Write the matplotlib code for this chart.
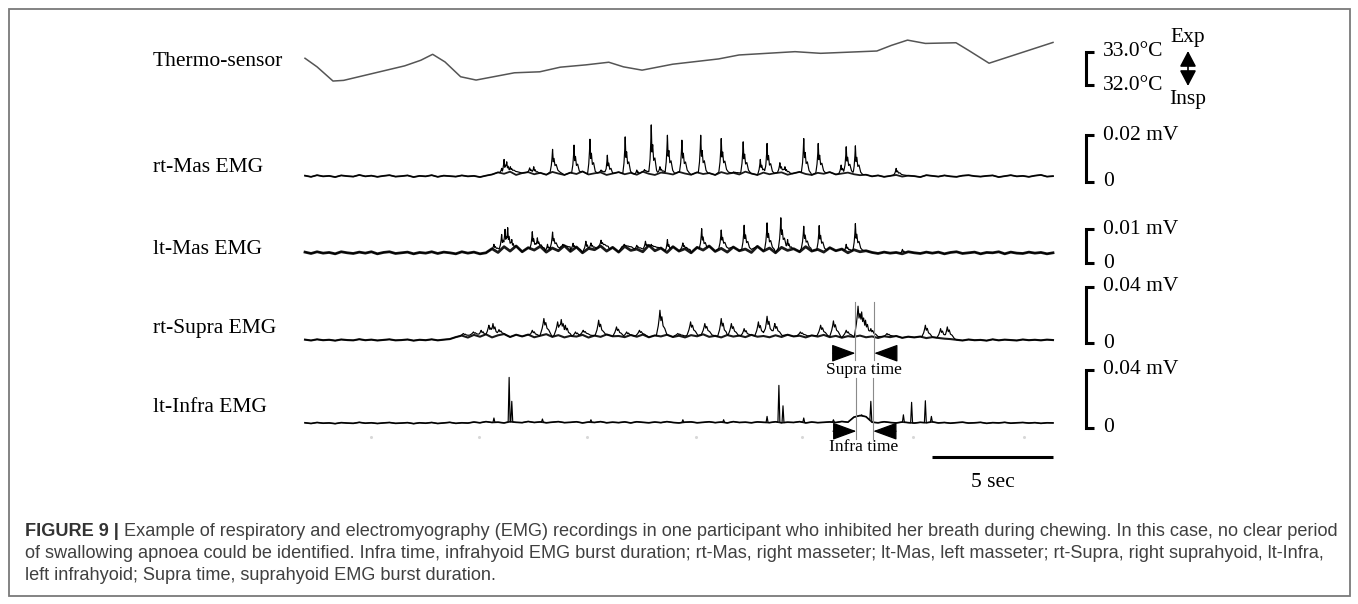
import numpy as np
import matplotlib
matplotlib.use("Agg")
import matplotlib.pyplot as plt
from matplotlib.patches import Rectangle

# ---------------- data ----------------
STEP = 0.25  # s between baseline samples
T_SPAN = 31.0

thermo_t = [0.0, 0.5, 1.16, 1.6, 4.13, 4.8, 5.29, 5.8, 6.45, 7.09, 8.68, 9.73, 10.58, 11.64,
            12.59, 13.2, 13.97, 15.24, 17.14, 17.99, 20.31, 21.37, 23.70, 24.3, 24.97,
            25.71, 26.98, 27.5, 28.35, 31.0]
thermo_c = [32.81, 32.55, 32.12, 32.14, 32.58, 32.75, 32.93, 32.70, 32.25, 32.15, 32.37, 32.40,
            32.54, 32.61, 32.69, 32.55, 32.45, 32.63, 32.79, 32.91, 33.01, 32.96, 33.03, 33.20,
            33.36, 33.26, 33.28, 33.05, 32.66, 33.29]

# rt-Mas (uV)
rtmas_base = [2.7, 2.2, 2.9, 2.4, 2.6, 2.1, 2.8, 2.5, 2.3, 3.0, 2.4, 2.7, 2.2, 2.6, 2.9, 2.3,
              2.5, 2.8, 2.1, 2.6, 2.4, 2.9, 2.2, 2.7, 2.5, 2.3, 2.8, 2.4, 2.6, 2.1, 2.7,
              3.2, 4.1, 3.5, 4.4, 3.0, 3.8, 4.2, 3.3, 3.9, 3.1, 4.3, 3.6, 3.0, 4.0, 3.4, 4.5,
              3.2, 3.7, 4.1, 3.0, 3.6, 4.2, 3.3, 3.9, 3.1, 4.4, 3.5, 3.0, 4.0, 3.7, 3.2, 4.3,
              3.6, 3.1, 4.1, 3.4, 3.8, 3.0, 4.2, 3.5, 3.9, 3.2, 4.4, 3.6, 3.0, 4.0, 3.3, 3.8,
              4.1, 3.1, 3.7, 4.3, 3.4, 3.0, 3.9, 3.5, 4.2, 3.2, 3.6, 4.0, 3.3, 2.9, 3.1,
              2.4, 2.8, 2.2, 2.6, 3.0, 2.3, 2.7, 2.5, 2.1, 2.9, 2.6, 2.3, 2.8, 2.4, 2.2, 2.7,
              2.9, 2.5, 2.3, 2.6, 2.8, 2.1, 2.5, 2.9, 2.4, 2.6, 2.2, 2.7, 3.0, 2.3, 2.5]
rtmas_peak_t = [8.15, 8.25, 8.36, 8.51, 9.31, 9.48, 10.26, 11.15, 11.81, 12.27, 12.53, 13.27,
                13.75, 14.07, 14.35, 14.71, 15.02, 15.62, 16.40, 17.25, 17.77, 18.16, 18.87,
                19.15, 19.68, 19.89, 20.67, 21.27, 22.22, 22.43, 22.81, 24.50]
rtmas_peak_v = [5.8, 9.6, 8.6, 6.5, 6.0, 6.5, 13.9, 15.7, 18.2, 5.1, 11.4, 19.2, 5.1, 5.3, 24.3,
                6.5, 19.9, 17.8, 19.9, 18.5, 4.3, 17.1, 9.6, 16.4, 8.2, 6.5, 18.5, 16.4, 7.2,
                15.0, 15.4, 5.8]

# lt-Mas (uV)
ltmas_base = [3.2, 2.8, 3.3, 2.9, 3.1, 2.7, 3.3, 3.0, 2.8, 3.2, 2.9, 3.3, 2.7, 3.1, 3.3, 2.8,
              3.0, 3.2, 2.7, 3.1, 2.9, 3.3, 2.8, 3.2, 3.0, 2.7, 3.3, 2.9, 3.2, 2.7, 3.0,
              4.2, 3.1, 4.8, 3.5, 5.0, 3.3, 4.5, 3.8, 4.9, 3.2, 4.4, 3.6, 5.1, 3.4, 4.7, 3.0,
              4.3, 3.9, 5.0, 3.5, 4.6, 3.2, 4.9, 3.7, 4.1, 3.3, 5.2, 3.6, 4.4, 3.1, 4.8, 3.5,
              4.2, 3.0, 4.6, 3.8, 5.0, 3.4, 4.3, 3.2, 4.7, 3.6, 4.1, 3.1, 4.9, 3.5, 4.4, 3.0,
              4.6, 3.7, 4.2, 3.3, 4.8, 3.5, 4.0, 3.2, 4.5, 3.6, 4.1, 3.0, 3.9, 3.3, 3.6,
              3.1, 2.8, 3.2, 2.9, 3.1, 2.7, 3.3, 3.0, 2.8, 3.2, 2.9, 3.2, 2.7, 3.1, 3.3, 2.8,
              3.0, 3.2, 2.7, 3.1, 3.0, 3.3, 2.7, 3.2, 2.9, 2.8, 3.2, 2.9, 3.1, 2.7, 3.0]
ltmas_peak_t = [7.83, 8.15, 8.29, 8.40, 8.57, 9.42, 9.63, 10.05, 10.26, 10.69, 11.11, 11.64,
                11.85, 12.27, 12.53, 13.23, 13.75, 14.11, 14.35, 15.02, 15.66, 16.44, 17.25,
                18.20, 19.15, 19.72, 20.00, 20.67, 21.31, 22.43, 22.81, 24.76]
ltmas_peak_v = [5.5, 8.4, 9.9, 10.4, 6.9, 9.2, 7.4, 5.5, 9.1, 5.5, 5.8, 6.4, 5.9, 6.7, 5.0, 5.5,
                5.2, 6.4, 5.5, 6.9, 5.9, 10.1, 9.7, 11.1, 11.8, 13.3, 6.9, 10.8, 11.0, 5.5,
                11.6, 4.0]

# rt-Supra (uV)
rtsupra_base = [2.4, 1.8, 2.6, 2.0, 2.3, 1.7, 2.5, 2.1, 1.9, 2.7, 2.0, 2.4, 1.8, 2.2, 2.6, 1.9,
                2.1, 2.5, 1.7, 2.3, 2.0, 2.6, 1.9, 2.4, 2.8,
                4.2, 5.3, 3.9, 5.8, 4.5, 6.2, 4.0, 5.5, 6.4, 4.3, 5.9, 4.7, 6.0, 4.1, 5.2, 6.3,
                4.4, 5.6, 4.0, 5.1, 4.6, 5.8, 3.9, 5.3, 4.4, 6.1, 4.8, 5.0, 4.2, 5.7, 4.5, 6.0,
                4.1, 5.4, 4.7, 5.9, 4.3, 5.2, 4.0, 5.6, 4.8, 6.2, 4.4, 5.1, 4.0, 5.7, 4.6, 5.3,
                4.2, 5.8, 4.5, 5.0, 4.1, 5.5, 4.3, 5.9, 4.7, 5.2, 4.0, 5.4, 4.6, 5.8, 4.2, 5.1,
                3.8, 4.9, 4.4, 5.3, 4.1, 4.7, 3.6, 4.8, 4.2, 5.0, 3.7, 4.5, 4.0, 4.6, 3.5, 4.2,
                3.6, 3.1, 2.8,
                2.3, 1.8, 2.5, 2.0, 2.2, 1.7, 2.6, 1.9, 2.4, 2.1, 1.8, 2.5, 2.0, 2.3, 1.9, 2.4,
                2.1]
rtsupra_peak_t = [6.56, 6.98, 7.30, 7.62, 7.79, 8.04, 9.42, 9.90, 10.47, 10.62, 10.79, 11.21,
                  11.53, 12.17, 12.91, 13.33, 13.86, 14.71, 15.45, 15.98, 16.57, 17.25, 17.67,
                  18.20, 18.79, 19.15, 19.47, 20.53, 21.37, 21.90, 22.43, 22.92, 23.07, 23.23,
                  23.45, 24.12, 25.71, 26.34, 26.62]
rtsupra_peak_v = [6.8, 7.9, 9.1, 12.7, 13.9, 9.6, 9.1, 17.5, 15.1, 16.8, 12.7, 7.9, 9.1, 16.3,
                  11.5, 7.9, 9.1, 23.4, 6.8, 15.1, 13.9, 17.5, 13.9, 10.3, 15.1, 19.1, 13.9,
                  7.9, 12.7, 15.8, 9.1, 26.3, 22.2, 16.3, 10.3, 6.8, 12.7, 10.3, 11.5]

# lt-Infra (uV)
ltinfra_base = [3.6, 3.1, 3.8, 3.3, 3.5, 3.0, 3.7, 3.4, 3.2, 3.9, 3.3, 3.6, 3.1, 3.5, 3.8, 3.2,
                3.4, 3.7, 3.0, 3.6, 3.3, 3.8, 3.1, 3.5, 3.9, 3.2, 3.6, 3.4,
                4.1, 3.6, 4.4, 3.8, 4.0, 3.5, 4.3, 3.9, 3.7, 4.5, 3.8, 4.2, 3.6, 4.0, 4.4, 3.7,
                3.9, 4.3, 3.5, 4.1, 3.8, 4.4, 3.6, 4.0, 3.7, 4.2, 3.5, 4.3, 3.9, 3.6, 4.1, 3.7,
                4.4, 3.8, 3.5, 4.0, 4.2, 3.6, 3.9, 4.3, 3.7, 4.1, 3.5, 4.4, 3.8, 4.0, 3.6, 4.2,
                3.9, 3.7, 4.3, 3.6, 4.0, 3.8, 4.4, 3.5, 4.1, 3.7, 3.9, 4.2, 3.8, 4.5, 4.0,
                7.5, 8.6, 7.8,
                4.0, 3.6, 4.3, 3.8, 3.5, 4.1, 3.7, 3.4, 3.9, 3.6, 4.2, 3.5, 3.8, 3.3, 3.7, 4.0,
                3.4, 3.6, 3.9, 3.2, 3.7, 3.5, 3.9, 3.3, 3.6, 3.8, 3.4, 3.7, 3.2, 3.6, 3.5]
ltinfra_peak_t = [7.83, 8.46, 8.57, 9.84, 11.85, 15.66, 17.35, 19.15, 19.64, 19.81, 20.67,
                  21.90, 23.07, 23.45, 24.80, 25.14, 25.71, 25.96]
ltinfra_peak_v = [6.9, 34.9, 18.4, 6.2, 5.7, 5.7, 5.7, 8.0, 29.4, 15.3, 6.9, 5.7, 9.1, 18.4,
                  9.1, 17.7, 18.8, 8.0]
grid_dots_t = [2.75, 7.2, 11.7, 16.2, 20.6, 25.2, 29.8]

labels = ["Thermo-sensor", "rt-Mas EMG", "lt-Mas EMG", "rt-Supra EMG", "lt-Infra EMG"]
scale_tops = ["0.02 mV", "0.01 mV", "0.04 mV", "0.04 mV"]
swallow_lines_t = [22.81, 23.59]
infra_lines_t = [22.85, 23.55]

caption_bold = "FIGURE 9 |"
caption = [" Example of respiratory and electromyography (EMG) recordings in one participant who inhibited her breath during chewing. In this case, no clear period",
           "of swallowing apnoea could be identified. Infra time, infrahyoid EMG burst duration; rt-Mas, right masseter; lt-Mas, left masseter; rt-Supra, right suprahyoid, lt-Infra,",
           "left infrahyoid; Supra time, suprahyoid EMG burst duration."]

# ---------------- styling / layout ----------------
W, H = 1358, 604
X0, X1 = 305, 1053
SERIF = "Liberation Serif"
FS = 15.5

mas_tpl = [(-0.10, 0.0), (-0.05, 0.3), (-0.02, 0.65), (0.0, 1.0), (0.03, 0.45), (0.06, 0.6),
           (0.10, 0.28), (0.15, 0.33), (0.22, 0.08), (0.30, 0.0)]
supra_tpl = [(-0.15, 0.0), (-0.07, 0.4), (-0.03, 0.7), (0.0, 1.0), (0.04, 0.6), (0.08, 0.75),
             (0.13, 0.4), (0.20, 0.3), (0.30, 0.0)]
infra_tpl = [(-0.04, 0.0), (0.0, 1.0), (0.04, 0.0)]

fig = plt.figure(figsize=(W / 100, H / 100), dpi=100)
fig.patch.set_facecolor("white")


def px_t(x):
    return (x - X0) / (X1 - X0) * T_SPAN


def row_axes(y_top, y_bot, v_top, v_bot):
    ax = fig.add_axes([X0 / W, 1 - y_bot / H, (X1 - X0) / W, (y_bot - y_top) / H])
    ax.set_xlim(0, T_SPAN)
    ax.set_ylim(v_bot, v_top)
    ax.axis("off")
    return ax


def build_trace(base, pk_t, pk_v, tpl):
    base = np.asarray(base, float)
    bt = np.arange(len(base)) * STEP
    dts = np.array([d for d, _ in tpl])
    fr = np.array([f for _, f in tpl])
    tt = np.unique(np.concatenate([bt] + [tp + dts for tp in pk_t]))
    tt = tt[(tt >= 0) & (tt <= bt[-1])]
    vv = np.interp(tt, bt, base)
    for tp, vp in zip(pk_t, pk_v):
        b0 = np.interp(tp, bt, base)
        shape = np.interp(tt, tp + dts, b0 + fr * (vp - b0), left=-1e9, right=-1e9)
        vv = np.maximum(vv, shape)
    return bt, base, tt, vv


def bracket(ax, v_top, v_bot, top_label, bot_label):
    xb, xt = px_t(1086), px_t(1094)
    ax.plot([xt, xb, xb, xt], [v_top, v_top, v_bot, v_bot], color="black", lw=2.2,
            clip_on=False, solid_joinstyle="miter", solid_capstyle="butt")
    ax.text(px_t(1103), v_top, top_label, ha="left", va="center", fontsize=FS, family=SERIF)
    ax.text(px_t(1103), v_bot, bot_label, ha="left", va="center", fontsize=FS, family=SERIF)


# Thermo
ax_th = row_axes(52, 85, 33.0, 32.0)
ax_th.plot(thermo_t, thermo_c, color="#555555", lw=1.1, clip_on=False)
bracket(ax_th, 33.0, 32.0, "33.0°C", "32.0°C")
ax_th.annotate("", xy=(px_t(1188), 33.03), xytext=(px_t(1188), 31.97),
               arrowprops=dict(arrowstyle="<|-|>,head_length=0.95,head_width=0.5",
                               color="black", lw=1.2, shrinkA=0, shrinkB=0,
                               mutation_scale=10), annotation_clip=False)
ax_th.text(px_t(1188), 33.45, "Exp", ha="center", va="center", fontsize=FS, family=SERIF)
ax_th.text(px_t(1188), 31.55, "Insp", ha="center", va="center", fontsize=FS, family=SERIF)

rows = [
    (135, 182, 20.0, rtmas_base, rtmas_peak_t, rtmas_peak_v, mas_tpl, 1.3),
    (229, 263, 10.0, ltmas_base, ltmas_peak_t, ltmas_peak_v, mas_tpl, 2.0),
    (287, 343, 40.0, rtsupra_base, rtsupra_peak_t, rtsupra_peak_v, supra_tpl, 1.5),
    (370, 428, 40.0, ltinfra_base, ltinfra_peak_t, ltinfra_peak_v, infra_tpl, 1.2),
]
axes = []
for (yt, yb, vt, base, pt, pv, tpl, band), top_lab in zip(rows, scale_tops):
    ax = row_axes(yt, yb, vt, 0.0)
    bt, bv, t, v = build_trace(base, pt, pv, tpl)
    ax.plot(bt, bv, color="#1a1a1a", lw=band, clip_on=False, solid_joinstyle="round")
    ax.plot(t, v, color="black", lw=0.85, clip_on=False)
    bracket(ax, vt, 0.0, top_lab, "0")
    axes.append(ax)

ax_sup = axes[2]
ax_inf = axes[3]

# Supra time markers
for tl in swallow_lines_t:
    ax_sup.plot([tl, tl], [29.3, -12.0], color="#8a8a8a", lw=0.8, clip_on=False)
arrow_kw = dict(arrowstyle="-|>,head_length=1.5,head_width=0.55", color="black", lw=0.9,
                shrinkA=0, shrinkB=0, mutation_scale=10)
ax_sup.annotate("", xy=(swallow_lines_t[0], -7.3), xytext=(px_t(833), -7.3),
                arrowprops=arrow_kw, annotation_clip=False)
ax_sup.annotate("", xy=(swallow_lines_t[1], -7.3), xytext=(px_t(894), -7.3),
                arrowprops=arrow_kw, annotation_clip=False)
ax_sup.text(px_t(864), -19.5, "Supra time", ha="center", va="center", fontsize=12.5, family=SERIF)

# Infra time markers
for tl in infra_lines_t:
    ax_inf.plot([tl, tl], [34.5, -7.6], color="#8a8a8a", lw=0.8, clip_on=False)
ax_inf.annotate("", xy=(infra_lines_t[0], -2.2), xytext=(px_t(833), -2.2),
                arrowprops=arrow_kw, annotation_clip=False)
ax_inf.annotate("", xy=(infra_lines_t[1], -2.2), xytext=(px_t(896), -2.2),
                arrowprops=arrow_kw, annotation_clip=False)
ax_inf.text(px_t(864), -13.2, "Infra time", ha="center", va="center", fontsize=12.5, family=SERIF)
ax_inf.plot(grid_dots_t, [-6.3] * len(grid_dots_t), ls="none", marker="o", ms=1.2,
            color="#d8d8d8", clip_on=False)

# 5 sec scale bar
ax_inf.plot([T_SPAN - 5, T_SPAN], [-20.0, -20.0], color="black", lw=2.2, clip_on=False,
            solid_capstyle="butt")
ax_inf.text(T_SPAN - 2.5, -37.5, "5 sec", ha="center", va="center", fontsize=FS, family=SERIF)

# left labels
for lab, yp in zip(labels, [62, 168, 250, 328, 407]):
    fig.text(153 / W, 1 - yp / H, lab, ha="left", va="center", fontsize=FS, family=SERIF)

# border
fig.add_artist(Rectangle((8.5 / W, 1 - 596 / H), (1350 - 8.5) / W, (596 - 9) / H,
                         transform=fig.transFigure, fill=False, edgecolor="#7a7a7a", lw=1.3))

# caption (fit width)
fig.canvas.draw()
r = fig.canvas.get_renderer()
probe = fig.text(0, 0, caption[1], fontsize=12, family="Liberation Sans")
wid = probe.get_window_extent(r).width
probe.remove()
cfs = 12 * 1305 / wid
cx = 25 / W
ys = [531, 554, 576]
tb = fig.text(cx, 1 - ys[0] / H, caption_bold, fontsize=cfs, family="Liberation Sans",
              weight="bold", color="#333333", va="center", ha="left")
bw = tb.get_window_extent(r).width
fig.text(cx + bw / W, 1 - ys[0] / H, caption[0], fontsize=cfs, family="Liberation Sans",
         color="#404040", va="center", ha="left")
for line, yp in zip(caption[1:], ys[1:]):
    fig.text(cx, 1 - yp / H, line, fontsize=cfs, family="Liberation Sans", color="#404040",
             va="center", ha="left")

fig.savefig("out.png", dpi=100, facecolor="white")
